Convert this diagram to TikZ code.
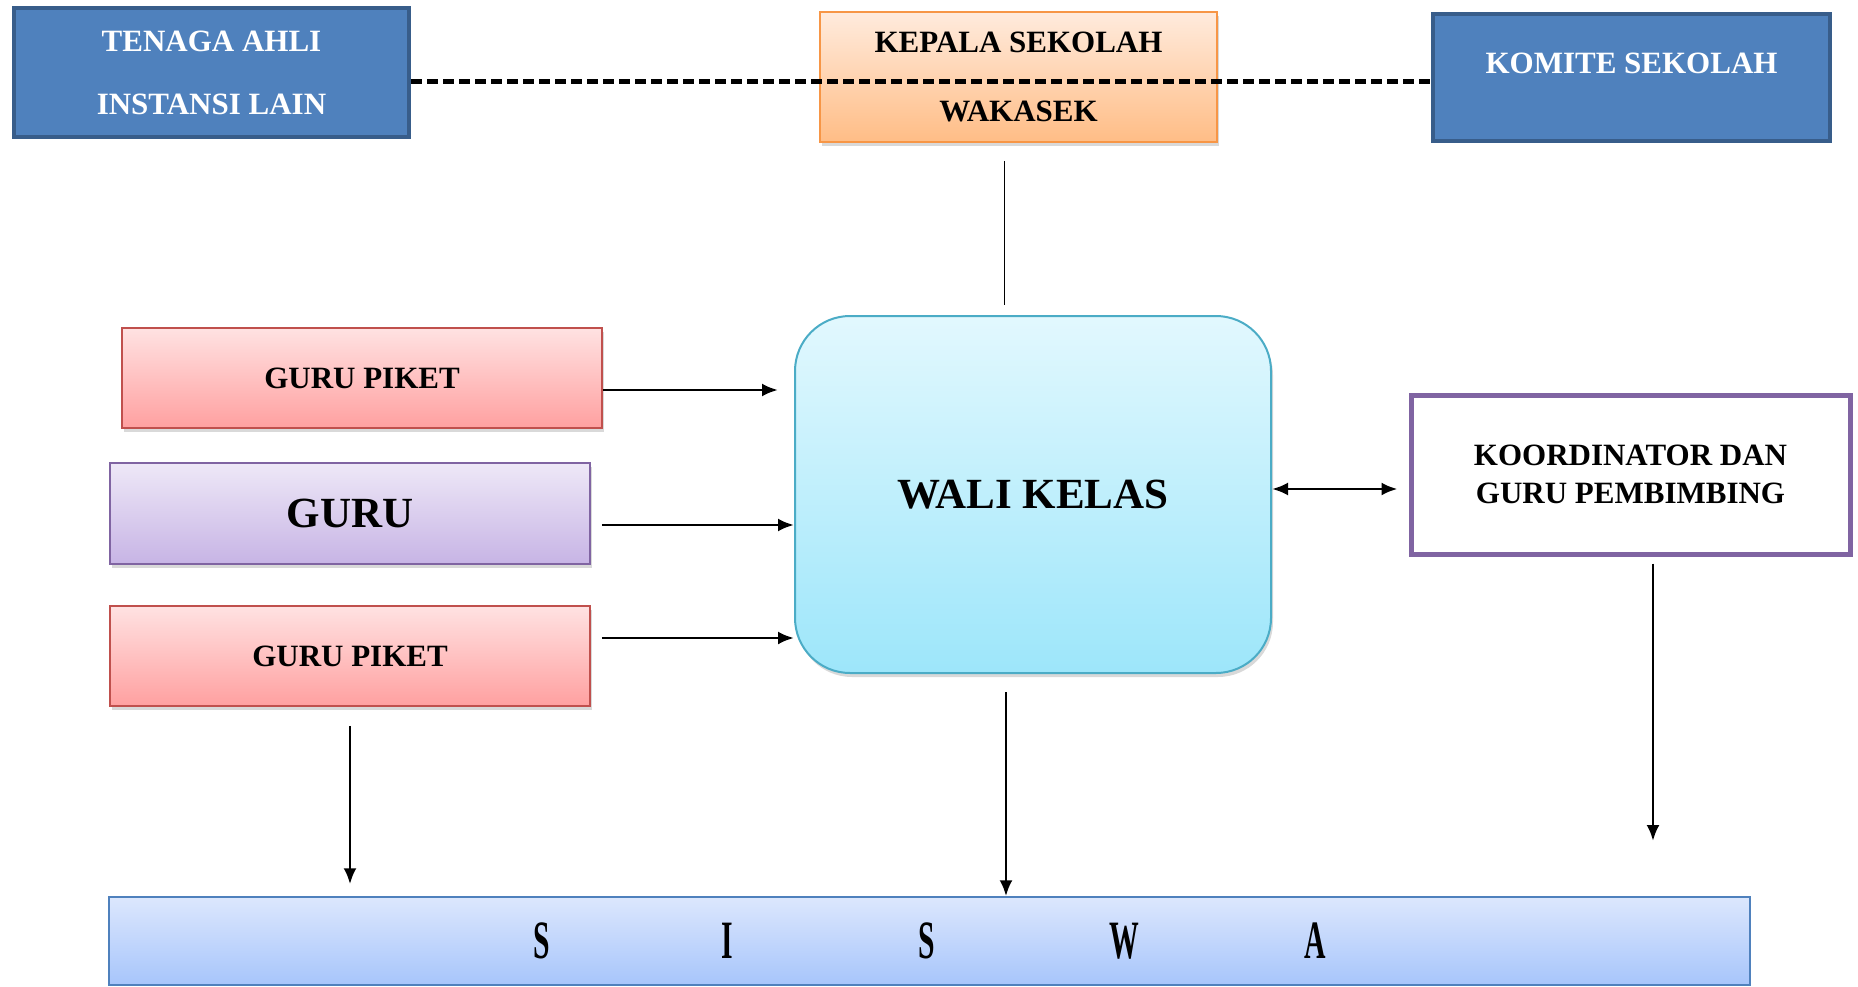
\documentclass[tikz,border=0pt]{standalone}
\usepackage{fontspec}
\setmainfont{Liberation Serif}
\usepackage{tikz}
\usetikzlibrary{arrows.meta,shadows}
\usepackage{xcolor}

\definecolor{biru}{HTML}{4F81BD}
\definecolor{birutua}{HTML}{385D8A}
\definecolor{oranye}{HTML}{F79646}
\definecolor{merah}{HTML}{C0504D}
\definecolor{ungu}{HTML}{8064A2}
\definecolor{tosca}{HTML}{4BACC6}
\definecolor{peachatas}{HTML}{FFEBDD}
\definecolor{peachbawah}{HTML}{FFBD86}
\definecolor{pinkatas}{HTML}{FFE2E2}
\definecolor{pinkbawah}{HTML}{FFA0A0}
\definecolor{lilaatas}{HTML}{EEE8F7}
\definecolor{lilabawah}{HTML}{C7B4E5}
\definecolor{langitatas}{HTML}{E2F8FE}
\definecolor{langitbawah}{HTML}{9DE6FA}
\definecolor{siswaatas}{HTML}{DCE7FD}
\definecolor{siswabawah}{HTML}{A7C5FB}

\newcommand{\huruf}[1]{\scalebox{.55}[1]{#1}}

\begin{document}
\begin{tikzpicture}[x=1pt,y=-1pt,
  teks/.style={font=\fontsize{31}{38}\selectfont\bfseries, align=center},
  bayang/.style={drop shadow={shadow xshift=2pt, shadow yshift=-4pt, opacity=.3}},
  bluebox/.style={teks, draw=birutua, line width=4pt, fill=biru, text=white},
  peachbox/.style={teks, bayang, draw=oranye, line width=2pt, top color=peachatas, bottom color=peachbawah},
  redbox/.style={teks, bayang, draw=merah, line width=1.5pt, top color=pinkatas, bottom color=pinkbawah},
  purplebox/.style={teks, bayang, draw=ungu, line width=1.5pt, top color=lilaatas, bottom color=lilabawah},
  arr/.style={-{Latex[length=16pt,width=13pt]}, line width=2.8pt}]
\useasboundingbox (0,0) rectangle (1858,987);

% atas
\node[bluebox, minimum width=395pt, minimum height=129pt] (tenaga) at (211.5,72.5) {TENAGA AHLI\\[25pt]INSTANSI LAIN};
\node[peachbox, minimum width=397pt, minimum height=130pt] (kepala) at (1018.5,77) {KEPALA SEKOLAH\\[31pt]WAKASEK};
\node[bluebox, minimum width=397pt, minimum height=127pt, text height=22pt, text depth=30pt] (komite) at (1631.5,77.5) {KOMITE SEKOLAH};

% tengah
\node[redbox, minimum width=480pt, minimum height=100pt] (gp1) at (362,378) {GURU PIKET};
\node[purplebox, minimum width=480pt, minimum height=101pt, font=\fontsize{43}{48}\selectfont\bfseries] (guru) at (350,513.5) {GURU};
\node[redbox, minimum width=480pt, minimum height=100pt] (gp2) at (350,656) {GURU PIKET};
\node[bayang, draw=tosca, line width=2pt, rounded corners=55pt, top color=langitatas, bottom color=langitbawah,
  minimum width=476pt, minimum height=357pt, font=\fontsize{43}{48}\selectfont\bfseries] (wali) at (1033,494.5) {WALI KELAS};
\node[teks, draw=ungu, line width=5pt, fill=white, minimum width=439pt, minimum height=159pt] (koord) at (1630.5,474.5) {KOORDINATOR DAN\\GURU PEMBIMBING};

% bawah
\node[draw=biru, line width=1.5pt, top color=siswaatas, bottom color=siswabawah, minimum width=1641pt, minimum height=88pt,
  font=\fontsize{54}{60}\selectfont\bfseries] (siswa) at (929.5,941)
  {\huruf{S}\hspace{172pt}\huruf{I}\hspace{185pt}\huruf{S}\hspace{175pt}\huruf{W}\hspace{165pt}\huruf{A}};

% garis putus-putus
\coordinate (d1) at ([yshift=-9pt]tenaga.east);
\draw[line width=4.5pt, dash pattern=on 11pt off 5pt] (d1) -- (d1 -| komite.west);

\coordinate (k1) at ([xshift=-14pt]kepala.south);
\draw[line width=1.8pt, shorten <=18pt, shorten >=10pt] (k1) -- (k1 |- wali.north);

% panah ke wali kelas
\coordinate (a1) at ([yshift=-12pt]gp1.east);
\coordinate (a2) at ([yshift=-11.5pt]guru.east);
\coordinate (a3) at ([yshift=18pt]gp2.east);
\draw[arr, shorten >=16pt] (a1) -- (a1 -| wali.west);
\draw[arr, shorten <=11pt] (a2) -- (a2 -| wali.west);
\draw[arr, shorten <=11pt] (a3) -- (a3 -| wali.west);

\coordinate (a4) at ([yshift=5.5pt]wali.east);
\draw[{Latex[length=16pt,width=13pt]}-{Latex[length=16pt,width=13pt]}, line width=2.8pt, shorten >=11pt] (a4) -- (a4 -| koord.west);

% panah ke siswa
\draw[arr, shorten <=19pt, shorten >=12pt] (gp2.south) -- (gp2.south |- siswa.north);
\coordinate (w1) at ([xshift=-27pt]wali.south);
\draw[arr, shorten <=18pt] (w1) -- (w1 |- siswa.north);
\coordinate (kend) at (1653,841);
\draw[arr, shorten <=7pt] (kend |- koord.south) -- (kend);
\end{tikzpicture}
\end{document}
